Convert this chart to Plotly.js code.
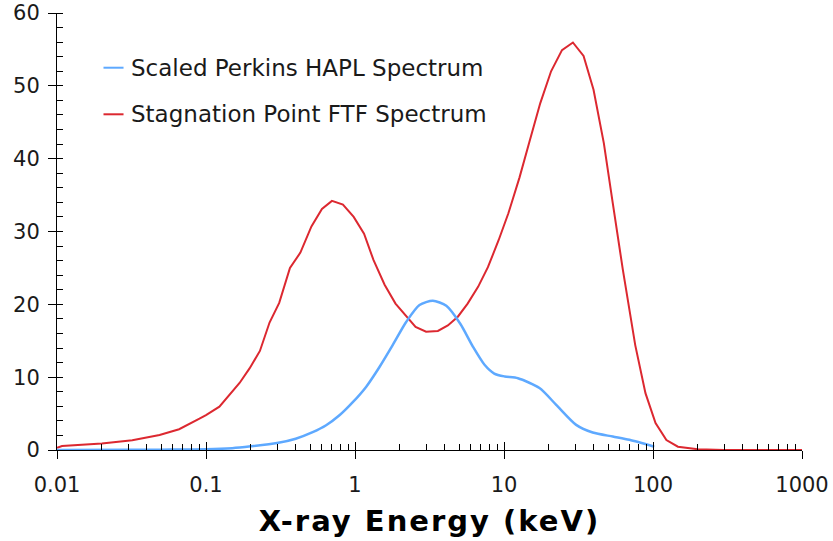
<!DOCTYPE html>
<html>
<head>
<meta charset="utf-8">
<script src="https://cdn.plot.ly/plotly-3.0.1.min.js"></script>
<style>
  html, body { margin: 0; padding: 0; background: #ffffff; }
  #chart { width: 833px; height: 541px; }
  /* wider set for the bold axis title */
  #chart .xtitle { letter-spacing: 2px; }
</style>
</head>
<body>
<div id="chart"></div>
<script>
// Stagnation point spectrum from the FTF calculation (keV, arbitrary units)
const ftfEnergy = [0.01, 0.0108, 0.02, 0.032, 0.0488, 0.066, 0.0904, 0.1, 0.123, 0.14, 0.168, 0.196,
  0.23, 0.267, 0.31, 0.366, 0.43, 0.51, 0.60, 0.70, 0.83, 0.98, 1.15, 1.33, 1.58, 1.87, 2.18,
  2.55, 3.0, 3.6, 4.2, 4.9, 5.7, 6.7, 7.8, 9.2, 10.7, 12.7, 14.8, 17.5, 20.7, 24.5, 29.0, 34.2,
  39.9, 46.8, 53.7, 62.7, 76, 89, 104, 123, 147, 200, 300, 500, 700, 1000];
const ftfFlux = [0.3, 0.55, 0.9, 1.35, 2.05, 2.85, 4.3, 4.8, 5.95, 7.3, 9.2, 11.2,
  13.6, 17.5, 20.2, 25.0, 27.1, 30.7, 33.1, 34.2, 33.7, 32.0, 29.7, 26.1, 22.7, 20.1, 18.5,
  16.9, 16.25, 16.35, 17.1, 18.3, 20.1, 22.4, 25.1, 28.8, 32.5, 37.4, 42.3, 47.6, 52.0, 54.9, 55.95, 54.1,
  49.45, 42.1, 33.9, 24.8, 14.4, 7.8, 3.7, 1.37, 0.45, 0.1, 0, 0, 0, 0];

// Perkins HAPL spectrum, scaled
const haplEnergy = [0.01, 0.03, 0.05, 0.1, 0.15, 0.2, 0.3, 0.4, 0.52, 0.64, 0.79, 0.97, 1.19,
  1.46, 1.79, 2.21, 2.71, 3.33, 4.1, 5.1, 6.18, 7.4, 8.6, 10.1, 12.4, 17.3, 22.4, 30.5, 39.4,
  53.7, 69.5, 102];
const haplFlux = [0, 0.02, 0.05, 0.1, 0.25, 0.5, 0.95, 1.55, 2.45, 3.4, 4.8, 6.6, 8.7,
  11.4, 14.4, 17.6, 19.9, 20.5, 19.8, 17.3, 14.2, 11.7, 10.5, 10.1, 9.85, 8.5, 6.2, 3.45, 2.4,
  1.85, 1.4, 0.45];

const seriesNames = ['Scaled Perkins HAPL Spectrum', 'Stagnation Point FTF Spectrum'];
const seriesColors = ['#5ea9ff', '#dc2830'];

const xTickVals = [0.01, 0.1, 1, 10, 100, 1000];
const xTickText = ['0.01', '0.1', '1', '10', '100', '1000'];
const yTickVals = [0, 10, 20, 30, 40, 50, 60];
const xRangeLog = [-2, 3];
const yRange = [0, 60];

// minor ticks at 2..9 within each decade
const xMinorVals = [];
for (let d = 0; d < xTickVals.length - 1; d++) {
  for (let m = 2; m <= 9; m++) xMinorVals.push(xTickVals[d] * m);
}

const font = 'DejaVu Sans, Verdana, sans-serif';
const tickFont = { family: font, size: 21, color: '#1a1a1a' };

const traces = [
  {
    x: haplEnergy, y: haplFlux, name: seriesNames[0],
    type: 'scatter', mode: 'lines', xaxis: 'x2', yaxis: 'y2',
    line: { color: seriesColors[0], width: 2.5, shape: 'spline', smoothing: 0.7 },
    cliponaxis: false, showlegend: false
  },
  {
    x: ftfEnergy, y: ftfFlux, name: seriesNames[1],
    type: 'scatter', mode: 'lines', xaxis: 'x', yaxis: 'y',
    line: { color: seriesColors[1], width: 2 }, cliponaxis: false, showlegend: false
  }
];

// key in the upper left of the plot
const keyRows = [0.8748, 0.7682];
const shapes = keyRows.map((yy, i) => ({
  type: 'line', xref: 'paper', yref: 'paper',
  x0: 0.0624, x1: 0.0893, y0: yy, y1: yy,
  line: { color: seriesColors[i], width: 2 }
}));
const annotations = keyRows.map((yy, i) => ({
  xref: 'paper', yref: 'paper', x: 0.0973, y: yy,
  xanchor: 'left', yanchor: 'middle', showarrow: false,
  text: seriesNames[i], font: { family: font, size: 23, color: '#1a1a1a' }
}));

const layout = {
  width: 833, height: 541,
  margin: { l: 57, r: 31, t: 13, b: 91 },
  paper_bgcolor: '#ffffff', plot_bgcolor: '#ffffff',
  showlegend: false,
  xaxis: {
    type: 'log', range: xRangeLog, anchor: 'y',
    tickmode: 'array', tickvals: xTickVals, ticktext: xTickText,
    ticks: 'outside', ticklen: 8, tickwidth: 1, tickcolor: '#000',
    ticklabelstandoff: 8,
    minor: { tickmode: 'array', tickvals: xMinorVals, ticks: 'inside', ticklen: 6, tickwidth: 1, tickcolor: '#000', showgrid: false },
    showline: true, linecolor: '#000', linewidth: 1,
    showgrid: false, zeroline: false, tickfont: tickFont,
    title: { text: 'X-ray Energy (keV)', font: { family: font, size: 29, color: '#000', weight: 'bold' }, standoff: 14 }
  },
  yaxis: {
    range: yRange, anchor: 'x',
    tickmode: 'array', tickvals: yTickVals,
    ticks: 'outside', ticklen: 8, tickwidth: 1, tickcolor: '#000',
    ticklabelstandoff: 4,
    minor: { dtick: 2, ticks: 'inside', ticklen: 6, tickwidth: 1, tickcolor: '#000', showgrid: false },
    showline: true, linecolor: '#000', linewidth: 1,
    showgrid: false, zeroline: false, tickfont: tickFont
  },
  // overlay axes carry the inner half of the major ticks
  xaxis2: {
    type: 'log', range: xRangeLog, overlaying: 'x', anchor: 'y2', side: 'bottom',
    tickmode: 'array', tickvals: xTickVals,
    ticks: 'inside', ticklen: 8, tickwidth: 1, tickcolor: '#000',
    showticklabels: false, showline: false, showgrid: false, zeroline: false
  },
  yaxis2: {
    range: yRange, overlaying: 'y', anchor: 'x2', side: 'left',
    tickmode: 'array', tickvals: yTickVals,
    ticks: 'inside', ticklen: 6, tickwidth: 1, tickcolor: '#000',
    showticklabels: false, showline: false, showgrid: false, zeroline: false
  },
  shapes: shapes,
  annotations: annotations
};

Plotly.newPlot('chart', traces, layout, { displayModeBar: false, staticPlot: true });
</script>
</body>
</html>
